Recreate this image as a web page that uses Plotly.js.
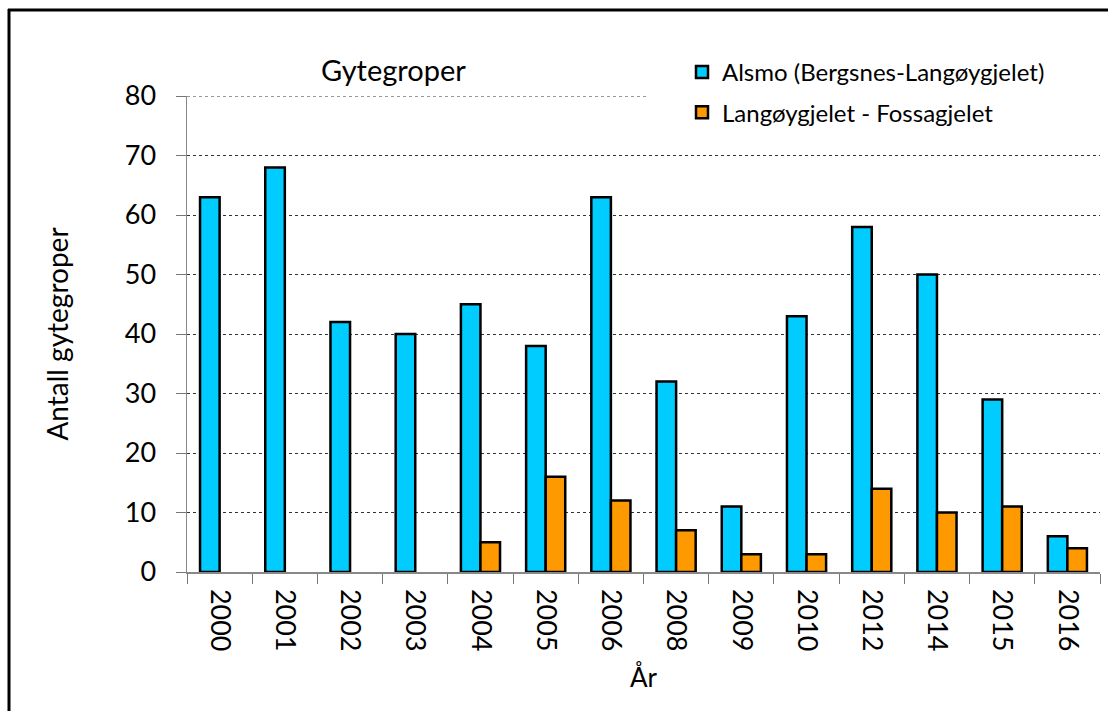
<!DOCTYPE html>
<html><head><meta charset="utf-8">
<script src="https://cdn.plot.ly/plotly-3.0.1.min.js"></script>
<style>body{margin:0;background:#fff}#c{width:1108px;height:711px}</style>
</head><body><div id="c"></div>
<script>
const years = ["2000","2001","2002","2003","2004","2005","2006","2008","2009","2010","2012","2014","2015","2016"];
const alsmo = [63,68,42,40,45,38,63,32,11,43,58,50,29,6];
const fossa = [null,null,null,null,5,16,12,7,3,3,14,10,11,4];
const seriesNames = ["Alsmo (Bergsnes-Langøygjelet)","Langøygjelet - Fossagjelet"];
const yTicks = [0,10,20,30,40,50,60,70,80];

const F = "Lato, 'Open Sans', sans-serif";
const W=1108,H=711,L=187,R=8,T=96,B=139;
const pw=W-L-R, ph=H-T-B;
const px = x => (x-L)/pw, py = y => (H-B-y)/ph;

const traces = [
 {type:'bar',x:years,y:alsmo,name:seriesNames[0],legendgroup:'a',
  marker:{color:'#00CCFF',line:{color:'#000',width:2.5}}},
 {type:'bar',x:years,y:fossa,name:seriesNames[1],legendgroup:'b',
  marker:{color:'#FF9900',line:{color:'#000',width:2.5}}}
];
const layout = {
 width:W,height:H,margin:{l:L,r:R,t:T,b:B},
 paper_bgcolor:'#fff',plot_bgcolor:'#fff',
 font:{family:F,color:'#000'},
 barmode:'group',bargap:0.4,bargroupgap:0,
 showlegend:true,
 legend:{x:px(682),y:py(50),xanchor:'left',yanchor:'top',bgcolor:'rgba(0,0,0,0)',
   font:{size:24,family:F},tracegroupgap:6,traceorder:'grouped'},
 xaxis:{type:'category',tickson:'boundaries',ticks:'outside',ticklen:10,tickcolor:'#777',
   showline:true,linecolor:'#888',linewidth:1.5,tickangle:90,ticklabelstandoff:10,
   tickfont:{size:27,family:F},title:{text:'År',font:{size:26,family:F},standoff:18},
   showgrid:false,range:[-0.5,13.5]},
 yaxis:{range:[0,80],tickvals:yTicks,ticks:'outside',ticklen:10,tickcolor:'#777',
   showline:true,linecolor:'#888',linewidth:1.5,tickfont:{size:27,family:F},ticklabelstandoff:14,
   showgrid:true,gridcolor:'#333',griddash:'dot',gridwidth:1,zeroline:false,
   title:{text:'Antall gytegroper',font:{size:28,family:F},standoff:48}},
 annotations:[{text:'Gytegroper',xref:'paper',yref:'paper',x:px(393),y:py(70),
   showarrow:false,font:{size:29,family:F},xanchor:'center',yanchor:'middle'}],
 shapes:[
  {type:'line',xref:'paper',yref:'y',x0:0,x1:px(648),y0:80,y1:80,
   line:{color:'#333',width:1,dash:'dot'},layer:'below'},
  {type:'line',xref:'paper',yref:'paper',x0:px(9),x1:px(9),y0:py(9),y1:py(720),line:{color:'#000',width:3}},
  {type:'line',xref:'paper',yref:'paper',x0:px(8),x1:px(1120),y0:py(10),y1:py(10),line:{color:'#000',width:3}}
 ]
};
Plotly.newPlot('c',traces,layout,{displayModeBar:false,staticPlot:true});
</script></body></html>
